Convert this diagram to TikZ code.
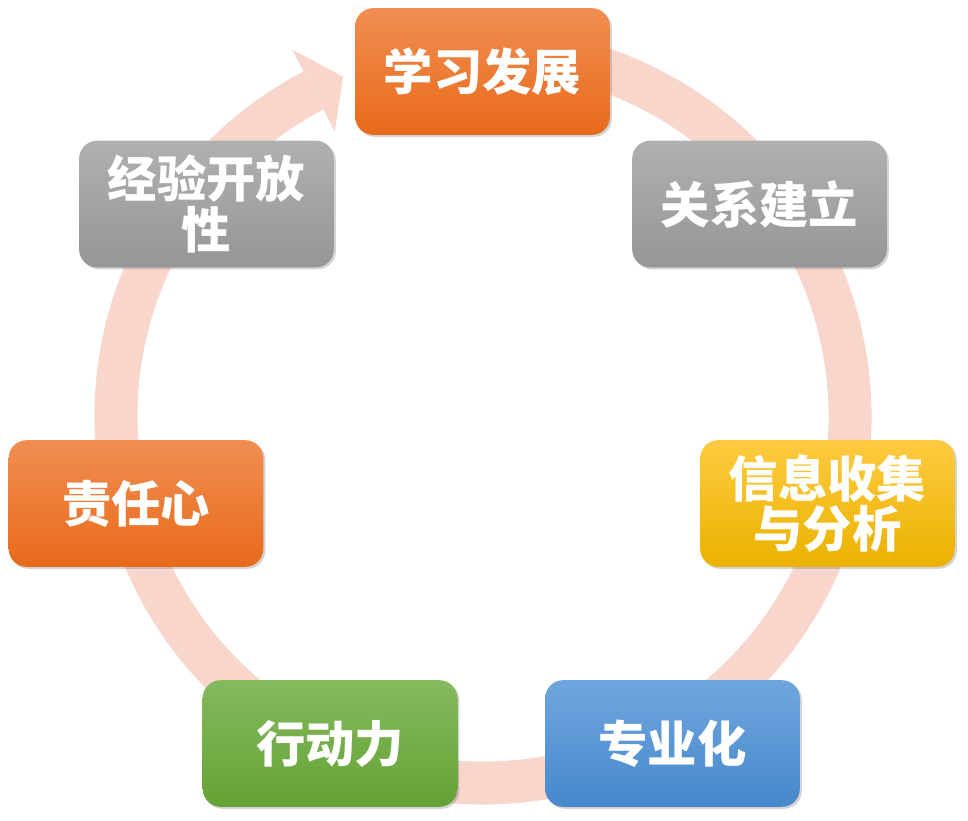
\documentclass[tikz,border=0pt]{standalone}
\usepackage{fontspec}
\newfontfamily\cjk{Noto Sans CJK SC}
\usetikzlibrary{shadows}
\definecolor{ringpink}{RGB}{248,214,204}
\definecolor{orangetop}{RGB}{241,142,82}
\definecolor{orangebot}{RGB}{232,106,26}
\definecolor{graytop}{RGB}{176,176,176}
\definecolor{graybot}{RGB}{150,150,150}
\definecolor{yellowtop}{RGB}{255,202,64}
\definecolor{yellowbot}{RGB}{234,178,0}
\definecolor{bluetop}{RGB}{112,166,222}
\definecolor{bluebot}{RGB}{70,136,204}
\definecolor{greentop}{RGB}{132,186,94}
\definecolor{greenbot}{RGB}{100,162,52}
\tikzset{
  stagebox/.style={rectangle, rounded corners=13.5pt, minimum width=191pt, minimum height=95pt,
    inner sep=0pt, align=center, text=white,
    font=\cjk\bfseries\fontsize{37}{38}\selectfont,
    drop shadow={opacity=0.35, shadow xshift=1.5pt, shadow yshift=-1.5pt}},
  orangebox/.style={stagebox, top color=orangetop, bottom color=orangebot},
  graybox/.style={stagebox, top color=graytop, bottom color=graybot},
  yellowbox/.style={stagebox, top color=yellowtop, bottom color=yellowbot},
  bluebox/.style={stagebox, top color=bluetop, bottom color=bluebot},
  greenbox/.style={stagebox, top color=greentop, bottom color=greenbot}
}
\begin{document}
\begin{tikzpicture}[x=0.75pt,y=0.75pt,yscale=-1,xscale=1]
  \useasboundingbox (0,0) rectangle (968,821);
  % circular arrow
  \begin{scope}[shift={(483,416)},yscale=-1]
    \draw [color=ringpink, line width=32.25pt] (100:367) arc [start angle=100, end angle=-242.5, radius=367];
    \fill [ringpink] (117.5:413) -- (112.4:367) -- (117.5:321) -- cycle;
  \end{scope}
  % stages
  \node (learn) at (482.5,71.5) [orangebox] {学习发展};
  \node (relation) at (759.5,204) [graybox] {关系建立};
  \node (info) at (827.5,503.5) [yellowbox] {信息收集\\与分析};
  \node (expert) at (672.5,743.5) [bluebox] {专业化};
  \node (action) at (330,743.5) [greenbox] {行动力};
  \node (duty) at (136,503.5) [orangebox] {责任心};
  \node (open) at (206.5,204) [graybox] {经验开放\\性};
\end{tikzpicture}
\end{document}
